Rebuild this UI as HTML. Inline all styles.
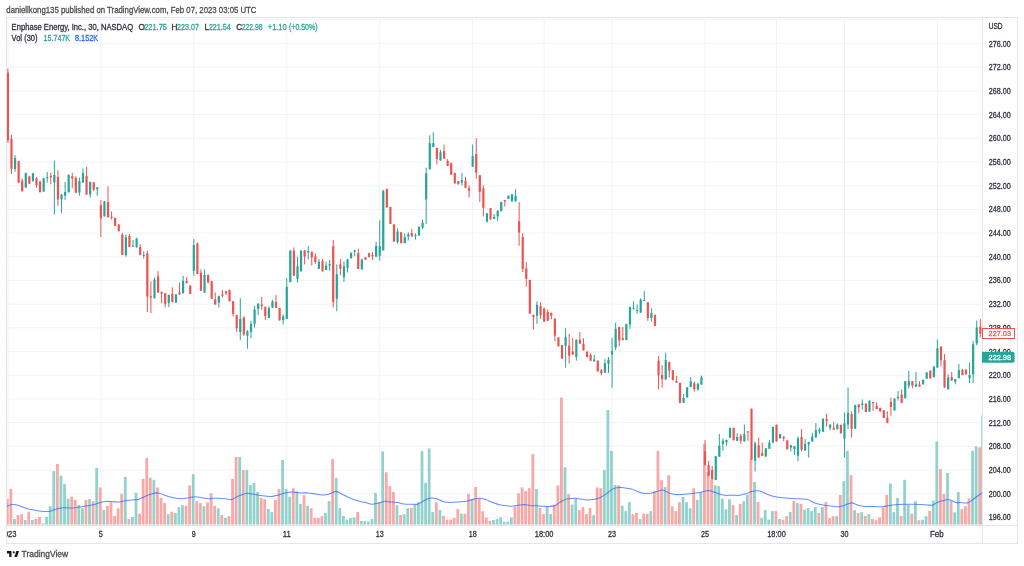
<!DOCTYPE html><html><head><meta charset="utf-8"><style>html,body{margin:0;padding:0;background:#fff;width:1024px;height:566px;overflow:hidden}svg{display:block}text{font-family:"Liberation Sans",sans-serif}</style></head><body><div style="will-change:transform;width:1024px;height:566px"><svg width="1024" height="566" viewBox="0 0 1024 566"><rect width="1024" height="566" fill="#fff"/><defs><clipPath id="pane"><rect x="7" y="18" width="975" height="507"/></clipPath></defs><g stroke="#f2f3f6" stroke-width="1" clip-path="url(#pane)"><line x1="7" y1="19.80" x2="982" y2="19.80"/><line x1="7" y1="43.50" x2="982" y2="43.50"/><line x1="7" y1="67.20" x2="982" y2="67.20"/><line x1="7" y1="90.89" x2="982" y2="90.89"/><line x1="7" y1="114.59" x2="982" y2="114.59"/><line x1="7" y1="138.28" x2="982" y2="138.28"/><line x1="7" y1="161.98" x2="982" y2="161.98"/><line x1="7" y1="185.68" x2="982" y2="185.68"/><line x1="7" y1="209.37" x2="982" y2="209.37"/><line x1="7" y1="233.07" x2="982" y2="233.07"/><line x1="7" y1="256.76" x2="982" y2="256.76"/><line x1="7" y1="280.46" x2="982" y2="280.46"/><line x1="7" y1="304.16" x2="982" y2="304.16"/><line x1="7" y1="327.85" x2="982" y2="327.85"/><line x1="7" y1="351.55" x2="982" y2="351.55"/><line x1="7" y1="375.24" x2="982" y2="375.24"/><line x1="7" y1="398.94" x2="982" y2="398.94"/><line x1="7" y1="422.64" x2="982" y2="422.64"/><line x1="7" y1="446.33" x2="982" y2="446.33"/><line x1="7" y1="470.03" x2="982" y2="470.03"/><line x1="7" y1="493.72" x2="982" y2="493.72"/><line x1="7" y1="517.42" x2="982" y2="517.42"/><line x1="7.90" y1="18" x2="7.90" y2="525"/><line x1="100.85" y1="18" x2="100.85" y2="525"/><line x1="193.80" y1="18" x2="193.80" y2="525"/><line x1="286.75" y1="18" x2="286.75" y2="525"/><line x1="379.70" y1="18" x2="379.70" y2="525"/><line x1="472.65" y1="18" x2="472.65" y2="525"/><line x1="544.15" y1="18" x2="544.15" y2="525"/><line x1="612.08" y1="18" x2="612.08" y2="525"/><line x1="705.02" y1="18" x2="705.02" y2="525"/><line x1="776.52" y1="18" x2="776.52" y2="525"/><line x1="844.45" y1="18" x2="844.45" y2="525"/><line x1="937.40" y1="18" x2="937.40" y2="525"/></g><g clip-path="url(#pane)"><rect x="5.90" y="498.90" width="2.8" height="25.70" fill="#f7a9a7"/><rect x="9.48" y="488.90" width="2.8" height="35.70" fill="#f7a9a7"/><rect x="13.05" y="519.00" width="2.8" height="5.60" fill="#92d2cc"/><rect x="16.62" y="515.00" width="2.8" height="9.60" fill="#f7a9a7"/><rect x="20.20" y="514.20" width="2.8" height="10.40" fill="#f7a9a7"/><rect x="23.77" y="520.00" width="2.8" height="4.60" fill="#92d2cc"/><rect x="27.35" y="511.70" width="2.8" height="12.90" fill="#f7a9a7"/><rect x="30.93" y="520.00" width="2.8" height="4.60" fill="#92d2cc"/><rect x="34.50" y="519.00" width="2.8" height="5.60" fill="#f7a9a7"/><rect x="38.08" y="516.90" width="2.8" height="7.70" fill="#f7a9a7"/><rect x="41.65" y="523.40" width="2.8" height="1.20" fill="#92d2cc"/><rect x="45.23" y="516.90" width="2.8" height="7.70" fill="#92d2cc"/><rect x="48.80" y="506.20" width="2.8" height="18.40" fill="#92d2cc"/><rect x="52.38" y="471.10" width="2.8" height="53.50" fill="#92d2cc"/><rect x="55.95" y="464.00" width="2.8" height="60.60" fill="#f7a9a7"/><rect x="59.52" y="475.70" width="2.8" height="48.90" fill="#92d2cc"/><rect x="63.10" y="484.10" width="2.8" height="40.50" fill="#92d2cc"/><rect x="66.68" y="498.70" width="2.8" height="25.90" fill="#92d2cc"/><rect x="70.25" y="496.70" width="2.8" height="27.90" fill="#f7a9a7"/><rect x="73.83" y="499.90" width="2.8" height="24.70" fill="#f7a9a7"/><rect x="77.40" y="504.90" width="2.8" height="19.70" fill="#92d2cc"/><rect x="80.98" y="508.30" width="2.8" height="16.30" fill="#92d2cc"/><rect x="84.55" y="499.90" width="2.8" height="24.70" fill="#f7a9a7"/><rect x="88.13" y="499.20" width="2.8" height="25.40" fill="#92d2cc"/><rect x="91.70" y="501.20" width="2.8" height="23.40" fill="#f7a9a7"/><rect x="95.28" y="467.80" width="2.8" height="56.80" fill="#92d2cc"/><rect x="98.85" y="487.40" width="2.8" height="37.20" fill="#f7a9a7"/><rect x="102.43" y="510.00" width="2.8" height="14.60" fill="#92d2cc"/><rect x="106.00" y="505.80" width="2.8" height="18.80" fill="#f7a9a7"/><rect x="109.58" y="502.10" width="2.8" height="22.50" fill="#f7a9a7"/><rect x="113.15" y="515.90" width="2.8" height="8.70" fill="#f7a9a7"/><rect x="116.73" y="508.30" width="2.8" height="16.30" fill="#f7a9a7"/><rect x="120.30" y="494.10" width="2.8" height="30.50" fill="#f7a9a7"/><rect x="123.88" y="477.00" width="2.8" height="47.60" fill="#92d2cc"/><rect x="127.45" y="519.00" width="2.8" height="5.60" fill="#f7a9a7"/><rect x="131.03" y="516.90" width="2.8" height="7.70" fill="#92d2cc"/><rect x="134.60" y="492.60" width="2.8" height="32.00" fill="#92d2cc"/><rect x="138.18" y="513.70" width="2.8" height="10.90" fill="#f7a9a7"/><rect x="141.75" y="478.80" width="2.8" height="45.80" fill="#f7a9a7"/><rect x="145.33" y="457.80" width="2.8" height="66.80" fill="#f7a9a7"/><rect x="148.90" y="477.80" width="2.8" height="46.80" fill="#f7a9a7"/><rect x="152.48" y="479.80" width="2.8" height="44.80" fill="#92d2cc"/><rect x="156.05" y="487.40" width="2.8" height="37.20" fill="#f7a9a7"/><rect x="159.62" y="497.90" width="2.8" height="26.70" fill="#f7a9a7"/><rect x="163.20" y="503.10" width="2.8" height="21.50" fill="#f7a9a7"/><rect x="166.78" y="514.20" width="2.8" height="10.40" fill="#92d2cc"/><rect x="170.35" y="511.70" width="2.8" height="12.90" fill="#f7a9a7"/><rect x="173.93" y="513.00" width="2.8" height="11.60" fill="#92d2cc"/><rect x="177.50" y="507.10" width="2.8" height="17.50" fill="#92d2cc"/><rect x="181.08" y="505.20" width="2.8" height="19.40" fill="#92d2cc"/><rect x="184.65" y="505.80" width="2.8" height="18.80" fill="#f7a9a7"/><rect x="188.23" y="485.40" width="2.8" height="39.20" fill="#f7a9a7"/><rect x="191.80" y="474.20" width="2.8" height="50.40" fill="#92d2cc"/><rect x="195.38" y="501.20" width="2.8" height="23.40" fill="#f7a9a7"/><rect x="198.95" y="503.10" width="2.8" height="21.50" fill="#f7a9a7"/><rect x="202.53" y="506.20" width="2.8" height="18.40" fill="#92d2cc"/><rect x="206.10" y="502.40" width="2.8" height="22.20" fill="#f7a9a7"/><rect x="209.68" y="493.30" width="2.8" height="31.30" fill="#f7a9a7"/><rect x="213.25" y="505.80" width="2.8" height="18.80" fill="#f7a9a7"/><rect x="216.83" y="508.30" width="2.8" height="16.30" fill="#92d2cc"/><rect x="220.40" y="515.00" width="2.8" height="9.60" fill="#f7a9a7"/><rect x="223.98" y="518.00" width="2.8" height="6.60" fill="#92d2cc"/><rect x="227.55" y="516.20" width="2.8" height="8.40" fill="#f7a9a7"/><rect x="231.13" y="478.80" width="2.8" height="45.80" fill="#f7a9a7"/><rect x="234.70" y="456.90" width="2.8" height="67.70" fill="#f7a9a7"/><rect x="238.28" y="456.90" width="2.8" height="67.70" fill="#92d2cc"/><rect x="241.85" y="470.20" width="2.8" height="54.40" fill="#f7a9a7"/><rect x="245.43" y="470.00" width="2.8" height="54.60" fill="#92d2cc"/><rect x="249.00" y="485.10" width="2.8" height="39.50" fill="#92d2cc"/><rect x="252.58" y="482.90" width="2.8" height="41.70" fill="#92d2cc"/><rect x="256.15" y="492.00" width="2.8" height="32.60" fill="#92d2cc"/><rect x="259.73" y="497.90" width="2.8" height="26.70" fill="#f7a9a7"/><rect x="263.30" y="499.20" width="2.8" height="25.40" fill="#f7a9a7"/><rect x="266.88" y="509.00" width="2.8" height="15.60" fill="#92d2cc"/><rect x="270.45" y="512.10" width="2.8" height="12.50" fill="#92d2cc"/><rect x="274.02" y="499.90" width="2.8" height="24.70" fill="#f7a9a7"/><rect x="277.60" y="489.10" width="2.8" height="35.50" fill="#f7a9a7"/><rect x="281.18" y="460.00" width="2.8" height="64.60" fill="#92d2cc"/><rect x="284.75" y="488.90" width="2.8" height="35.70" fill="#92d2cc"/><rect x="288.32" y="496.70" width="2.8" height="27.90" fill="#92d2cc"/><rect x="291.90" y="488.20" width="2.8" height="36.40" fill="#f7a9a7"/><rect x="295.47" y="491.40" width="2.8" height="33.20" fill="#92d2cc"/><rect x="299.05" y="503.90" width="2.8" height="20.70" fill="#92d2cc"/><rect x="302.62" y="495.20" width="2.8" height="29.40" fill="#f7a9a7"/><rect x="306.20" y="505.80" width="2.8" height="18.80" fill="#92d2cc"/><rect x="309.77" y="508.30" width="2.8" height="16.30" fill="#f7a9a7"/><rect x="313.35" y="518.00" width="2.8" height="6.60" fill="#f7a9a7"/><rect x="316.93" y="518.00" width="2.8" height="6.60" fill="#f7a9a7"/><rect x="320.50" y="516.20" width="2.8" height="8.40" fill="#f7a9a7"/><rect x="324.07" y="513.00" width="2.8" height="11.60" fill="#92d2cc"/><rect x="327.65" y="501.20" width="2.8" height="23.40" fill="#92d2cc"/><rect x="331.22" y="459.10" width="2.8" height="65.50" fill="#f7a9a7"/><rect x="334.80" y="477.80" width="2.8" height="46.80" fill="#92d2cc"/><rect x="338.38" y="508.00" width="2.8" height="16.60" fill="#92d2cc"/><rect x="341.95" y="515.90" width="2.8" height="8.70" fill="#92d2cc"/><rect x="345.52" y="519.60" width="2.8" height="5.00" fill="#92d2cc"/><rect x="349.10" y="518.10" width="2.8" height="6.50" fill="#92d2cc"/><rect x="352.68" y="517.50" width="2.8" height="7.10" fill="#92d2cc"/><rect x="356.25" y="512.10" width="2.8" height="12.50" fill="#f7a9a7"/><rect x="359.82" y="520.90" width="2.8" height="3.70" fill="#92d2cc"/><rect x="363.40" y="520.90" width="2.8" height="3.70" fill="#92d2cc"/><rect x="366.98" y="521.60" width="2.8" height="3.00" fill="#92d2cc"/><rect x="370.55" y="519.00" width="2.8" height="5.60" fill="#92d2cc"/><rect x="374.12" y="492.90" width="2.8" height="31.70" fill="#92d2cc"/><rect x="377.70" y="502.10" width="2.8" height="22.50" fill="#f7a9a7"/><rect x="381.27" y="451.40" width="2.8" height="73.20" fill="#92d2cc"/><rect x="384.85" y="472.30" width="2.8" height="52.30" fill="#f7a9a7"/><rect x="388.43" y="486.10" width="2.8" height="38.50" fill="#f7a9a7"/><rect x="392.00" y="492.00" width="2.8" height="32.60" fill="#f7a9a7"/><rect x="395.57" y="505.20" width="2.8" height="19.40" fill="#92d2cc"/><rect x="399.15" y="515.00" width="2.8" height="9.60" fill="#f7a9a7"/><rect x="402.73" y="514.20" width="2.8" height="10.40" fill="#92d2cc"/><rect x="406.30" y="508.30" width="2.8" height="16.30" fill="#92d2cc"/><rect x="409.88" y="508.00" width="2.8" height="16.60" fill="#f7a9a7"/><rect x="413.45" y="504.90" width="2.8" height="19.70" fill="#92d2cc"/><rect x="417.02" y="502.10" width="2.8" height="22.50" fill="#92d2cc"/><rect x="420.60" y="450.90" width="2.8" height="73.70" fill="#92d2cc"/><rect x="424.18" y="482.90" width="2.8" height="41.70" fill="#92d2cc"/><rect x="427.75" y="448.40" width="2.8" height="76.20" fill="#92d2cc"/><rect x="431.32" y="512.10" width="2.8" height="12.50" fill="#92d2cc"/><rect x="434.90" y="502.40" width="2.8" height="22.20" fill="#f7a9a7"/><rect x="438.48" y="510.00" width="2.8" height="14.60" fill="#92d2cc"/><rect x="442.05" y="515.90" width="2.8" height="8.70" fill="#f7a9a7"/><rect x="445.62" y="519.60" width="2.8" height="5.00" fill="#f7a9a7"/><rect x="449.20" y="519.60" width="2.8" height="5.00" fill="#f7a9a7"/><rect x="452.77" y="518.00" width="2.8" height="6.60" fill="#f7a9a7"/><rect x="456.35" y="509.00" width="2.8" height="15.60" fill="#f7a9a7"/><rect x="459.93" y="513.70" width="2.8" height="10.90" fill="#92d2cc"/><rect x="463.50" y="513.70" width="2.8" height="10.90" fill="#f7a9a7"/><rect x="467.07" y="493.90" width="2.8" height="30.70" fill="#f7a9a7"/><rect x="470.65" y="498.70" width="2.8" height="25.90" fill="#92d2cc"/><rect x="474.23" y="487.00" width="2.8" height="37.60" fill="#f7a9a7"/><rect x="477.80" y="498.30" width="2.8" height="26.30" fill="#f7a9a7"/><rect x="481.38" y="511.20" width="2.8" height="13.40" fill="#f7a9a7"/><rect x="484.95" y="517.70" width="2.8" height="6.90" fill="#f7a9a7"/><rect x="488.52" y="520.90" width="2.8" height="3.70" fill="#f7a9a7"/><rect x="492.10" y="520.00" width="2.8" height="4.60" fill="#92d2cc"/><rect x="495.68" y="519.00" width="2.8" height="5.60" fill="#92d2cc"/><rect x="499.25" y="517.50" width="2.8" height="7.10" fill="#92d2cc"/><rect x="502.82" y="521.70" width="2.8" height="2.90" fill="#92d2cc"/><rect x="506.40" y="521.70" width="2.8" height="2.90" fill="#92d2cc"/><rect x="509.98" y="517.50" width="2.8" height="7.10" fill="#92d2cc"/><rect x="513.55" y="506.40" width="2.8" height="18.20" fill="#f7a9a7"/><rect x="517.12" y="493.30" width="2.8" height="31.30" fill="#f7a9a7"/><rect x="520.70" y="487.40" width="2.8" height="37.20" fill="#f7a9a7"/><rect x="524.27" y="491.10" width="2.8" height="33.50" fill="#f7a9a7"/><rect x="527.85" y="488.20" width="2.8" height="36.40" fill="#f7a9a7"/><rect x="531.42" y="454.20" width="2.8" height="70.40" fill="#f7a9a7"/><rect x="535.00" y="488.90" width="2.8" height="35.70" fill="#92d2cc"/><rect x="538.58" y="508.00" width="2.8" height="16.60" fill="#f7a9a7"/><rect x="542.15" y="514.20" width="2.8" height="10.40" fill="#f7a9a7"/><rect x="545.73" y="506.40" width="2.8" height="18.20" fill="#92d2cc"/><rect x="549.30" y="514.00" width="2.8" height="10.60" fill="#92d2cc"/><rect x="552.88" y="504.60" width="2.8" height="20.00" fill="#f7a9a7"/><rect x="556.45" y="485.50" width="2.8" height="39.10" fill="#f7a9a7"/><rect x="560.02" y="397.60" width="2.8" height="127.00" fill="#f7a9a7"/><rect x="563.60" y="467.20" width="2.8" height="57.40" fill="#92d2cc"/><rect x="567.17" y="494.10" width="2.8" height="30.50" fill="#f7a9a7"/><rect x="570.75" y="504.60" width="2.8" height="20.00" fill="#92d2cc"/><rect x="574.33" y="498.70" width="2.8" height="25.90" fill="#92d2cc"/><rect x="577.90" y="510.20" width="2.8" height="14.40" fill="#f7a9a7"/><rect x="581.48" y="507.10" width="2.8" height="17.50" fill="#f7a9a7"/><rect x="585.05" y="514.20" width="2.8" height="10.40" fill="#f7a9a7"/><rect x="588.62" y="508.00" width="2.8" height="16.60" fill="#f7a9a7"/><rect x="592.20" y="515.20" width="2.8" height="9.40" fill="#92d2cc"/><rect x="595.77" y="487.40" width="2.8" height="37.20" fill="#f7a9a7"/><rect x="599.35" y="488.20" width="2.8" height="36.40" fill="#f7a9a7"/><rect x="602.92" y="470.10" width="2.8" height="54.50" fill="#92d2cc"/><rect x="606.50" y="410.00" width="2.8" height="114.60" fill="#92d2cc"/><rect x="610.08" y="450.90" width="2.8" height="73.70" fill="#92d2cc"/><rect x="613.65" y="484.90" width="2.8" height="39.70" fill="#92d2cc"/><rect x="617.23" y="485.40" width="2.8" height="39.20" fill="#f7a9a7"/><rect x="620.80" y="505.80" width="2.8" height="18.80" fill="#92d2cc"/><rect x="624.38" y="511.10" width="2.8" height="13.50" fill="#92d2cc"/><rect x="627.95" y="502.10" width="2.8" height="22.50" fill="#92d2cc"/><rect x="631.52" y="514.20" width="2.8" height="10.40" fill="#f7a9a7"/><rect x="635.10" y="513.00" width="2.8" height="11.60" fill="#f7a9a7"/><rect x="638.67" y="519.00" width="2.8" height="5.60" fill="#92d2cc"/><rect x="642.25" y="513.70" width="2.8" height="10.90" fill="#f7a9a7"/><rect x="645.83" y="513.70" width="2.8" height="10.90" fill="#f7a9a7"/><rect x="649.40" y="511.10" width="2.8" height="13.50" fill="#92d2cc"/><rect x="652.98" y="491.40" width="2.8" height="33.20" fill="#f7a9a7"/><rect x="656.55" y="450.90" width="2.8" height="73.70" fill="#f7a9a7"/><rect x="660.12" y="480.10" width="2.8" height="44.50" fill="#f7a9a7"/><rect x="663.70" y="487.00" width="2.8" height="37.60" fill="#92d2cc"/><rect x="667.27" y="475.10" width="2.8" height="49.50" fill="#f7a9a7"/><rect x="670.85" y="506.40" width="2.8" height="18.20" fill="#f7a9a7"/><rect x="674.42" y="511.10" width="2.8" height="13.50" fill="#f7a9a7"/><rect x="678.00" y="502.10" width="2.8" height="22.50" fill="#f7a9a7"/><rect x="681.58" y="497.00" width="2.8" height="27.60" fill="#92d2cc"/><rect x="685.15" y="502.10" width="2.8" height="22.50" fill="#92d2cc"/><rect x="688.73" y="508.30" width="2.8" height="16.30" fill="#92d2cc"/><rect x="692.30" y="488.20" width="2.8" height="36.40" fill="#f7a9a7"/><rect x="695.88" y="499.90" width="2.8" height="24.70" fill="#92d2cc"/><rect x="699.45" y="492.40" width="2.8" height="32.20" fill="#92d2cc"/><rect x="703.02" y="444.00" width="2.8" height="80.60" fill="#f7a9a7"/><rect x="706.60" y="472.00" width="2.8" height="52.60" fill="#f7a9a7"/><rect x="710.18" y="480.00" width="2.8" height="44.60" fill="#f7a9a7"/><rect x="713.75" y="485.40" width="2.8" height="39.20" fill="#92d2cc"/><rect x="717.33" y="486.10" width="2.8" height="38.50" fill="#92d2cc"/><rect x="720.90" y="498.70" width="2.8" height="25.90" fill="#92d2cc"/><rect x="724.48" y="509.20" width="2.8" height="15.40" fill="#92d2cc"/><rect x="728.05" y="499.20" width="2.8" height="25.40" fill="#92d2cc"/><rect x="731.62" y="505.20" width="2.8" height="19.40" fill="#f7a9a7"/><rect x="735.20" y="515.00" width="2.8" height="9.60" fill="#92d2cc"/><rect x="738.77" y="503.90" width="2.8" height="20.70" fill="#f7a9a7"/><rect x="742.35" y="501.20" width="2.8" height="23.40" fill="#92d2cc"/><rect x="745.93" y="494.50" width="2.8" height="30.10" fill="#92d2cc"/><rect x="749.50" y="459.00" width="2.8" height="65.60" fill="#f7a9a7"/><rect x="753.08" y="482.00" width="2.8" height="42.60" fill="#92d2cc"/><rect x="756.65" y="502.10" width="2.8" height="22.50" fill="#f7a9a7"/><rect x="760.23" y="518.10" width="2.8" height="6.50" fill="#92d2cc"/><rect x="763.80" y="509.80" width="2.8" height="14.80" fill="#92d2cc"/><rect x="767.38" y="519.60" width="2.8" height="5.00" fill="#92d2cc"/><rect x="770.95" y="511.10" width="2.8" height="13.50" fill="#92d2cc"/><rect x="774.52" y="511.10" width="2.8" height="13.50" fill="#f7a9a7"/><rect x="778.10" y="519.00" width="2.8" height="5.60" fill="#92d2cc"/><rect x="781.68" y="519.60" width="2.8" height="5.00" fill="#f7a9a7"/><rect x="785.25" y="516.20" width="2.8" height="8.40" fill="#f7a9a7"/><rect x="788.83" y="512.10" width="2.8" height="12.50" fill="#92d2cc"/><rect x="792.40" y="500.80" width="2.8" height="23.80" fill="#f7a9a7"/><rect x="795.98" y="503.10" width="2.8" height="21.50" fill="#92d2cc"/><rect x="799.55" y="503.90" width="2.8" height="20.70" fill="#f7a9a7"/><rect x="803.12" y="509.80" width="2.8" height="14.80" fill="#92d2cc"/><rect x="806.70" y="508.00" width="2.8" height="16.60" fill="#92d2cc"/><rect x="810.27" y="511.10" width="2.8" height="13.50" fill="#92d2cc"/><rect x="813.85" y="507.10" width="2.8" height="17.50" fill="#92d2cc"/><rect x="817.43" y="513.00" width="2.8" height="11.60" fill="#f7a9a7"/><rect x="821.00" y="507.10" width="2.8" height="17.50" fill="#92d2cc"/><rect x="824.58" y="502.10" width="2.8" height="22.50" fill="#f7a9a7"/><rect x="828.15" y="518.10" width="2.8" height="6.50" fill="#f7a9a7"/><rect x="831.73" y="516.20" width="2.8" height="8.40" fill="#f7a9a7"/><rect x="835.30" y="516.20" width="2.8" height="8.40" fill="#92d2cc"/><rect x="838.88" y="494.90" width="2.8" height="29.70" fill="#f7a9a7"/><rect x="842.45" y="481.10" width="2.8" height="43.50" fill="#92d2cc"/><rect x="846.02" y="450.90" width="2.8" height="73.70" fill="#92d2cc"/><rect x="849.60" y="475.10" width="2.8" height="49.50" fill="#f7a9a7"/><rect x="853.18" y="510.20" width="2.8" height="14.40" fill="#92d2cc"/><rect x="856.75" y="513.00" width="2.8" height="11.60" fill="#f7a9a7"/><rect x="860.33" y="512.10" width="2.8" height="12.50" fill="#92d2cc"/><rect x="863.90" y="515.90" width="2.8" height="8.70" fill="#f7a9a7"/><rect x="867.48" y="514.20" width="2.8" height="10.40" fill="#92d2cc"/><rect x="871.05" y="519.00" width="2.8" height="5.60" fill="#f7a9a7"/><rect x="874.62" y="520.20" width="2.8" height="4.40" fill="#f7a9a7"/><rect x="878.20" y="517.50" width="2.8" height="7.10" fill="#f7a9a7"/><rect x="881.77" y="507.70" width="2.8" height="16.90" fill="#f7a9a7"/><rect x="885.35" y="494.90" width="2.8" height="29.70" fill="#f7a9a7"/><rect x="888.93" y="483.60" width="2.8" height="41.00" fill="#92d2cc"/><rect x="892.50" y="512.10" width="2.8" height="12.50" fill="#92d2cc"/><rect x="896.08" y="497.90" width="2.8" height="26.70" fill="#92d2cc"/><rect x="899.65" y="515.90" width="2.8" height="8.70" fill="#f7a9a7"/><rect x="903.23" y="479.80" width="2.8" height="44.80" fill="#92d2cc"/><rect x="906.80" y="504.60" width="2.8" height="20.00" fill="#92d2cc"/><rect x="910.38" y="513.70" width="2.8" height="10.90" fill="#f7a9a7"/><rect x="913.95" y="501.20" width="2.8" height="23.40" fill="#92d2cc"/><rect x="917.52" y="520.20" width="2.8" height="4.40" fill="#f7a9a7"/><rect x="921.10" y="519.70" width="2.8" height="4.90" fill="#92d2cc"/><rect x="924.68" y="516.20" width="2.8" height="8.40" fill="#92d2cc"/><rect x="928.25" y="511.00" width="2.8" height="13.60" fill="#f7a9a7"/><rect x="931.83" y="500.70" width="2.8" height="23.90" fill="#92d2cc"/><rect x="935.40" y="441.50" width="2.8" height="83.10" fill="#92d2cc"/><rect x="938.98" y="469.00" width="2.8" height="55.60" fill="#f7a9a7"/><rect x="942.55" y="494.00" width="2.8" height="30.60" fill="#f7a9a7"/><rect x="946.12" y="473.00" width="2.8" height="51.60" fill="#92d2cc"/><rect x="949.70" y="500.70" width="2.8" height="23.90" fill="#f7a9a7"/><rect x="953.27" y="512.30" width="2.8" height="12.30" fill="#92d2cc"/><rect x="956.85" y="492.00" width="2.8" height="32.60" fill="#92d2cc"/><rect x="960.43" y="509.20" width="2.8" height="15.40" fill="#f7a9a7"/><rect x="964.00" y="506.30" width="2.8" height="18.30" fill="#f7a9a7"/><rect x="967.58" y="498.50" width="2.8" height="26.10" fill="#f7a9a7"/><rect x="971.15" y="450.80" width="2.8" height="73.80" fill="#92d2cc"/><rect x="974.73" y="446.30" width="2.8" height="78.30" fill="#92d2cc"/><rect x="978.30" y="447.30" width="2.8" height="77.30" fill="#f7a9a7"/><rect x="981.2" y="415.5" width="0.9" height="109.1" fill="#92d2cc"/></g><path d="M6.00,506.20 C6.15,506.20 5.82,506.47 6.90,506.20 C7.98,505.93 10.52,504.73 12.50,504.60 C14.48,504.47 16.70,504.83 18.80,505.40 C20.90,505.97 23.00,507.30 25.10,508.00 C27.20,508.70 29.32,509.13 31.40,509.60 C33.48,510.07 35.52,510.48 37.60,510.80 C39.68,511.12 41.80,511.43 43.90,511.50 C46.00,511.57 48.10,511.62 50.20,511.20 C52.30,510.78 54.42,509.58 56.50,509.00 C58.58,508.42 60.62,507.87 62.70,507.70 C64.78,507.53 66.90,508.00 69.00,508.00 C71.10,508.00 73.20,507.92 75.30,507.70 C77.40,507.48 79.52,507.02 81.60,506.70 C83.68,506.38 85.72,506.15 87.80,505.80 C89.88,505.45 92.00,505.17 94.10,504.60 C96.20,504.03 98.32,502.93 100.40,502.40 C102.48,501.87 104.52,501.52 106.60,501.40 C108.68,501.28 110.80,501.60 112.90,501.70 C115.00,501.80 117.10,502.15 119.20,502.00 C121.30,501.85 123.28,501.15 125.50,500.80 C127.72,500.45 130.28,500.17 132.50,499.90 C134.72,499.63 136.70,499.78 138.80,499.20 C140.90,498.62 143.00,497.25 145.10,496.40 C147.20,495.55 149.32,494.68 151.40,494.10 C153.48,493.52 155.52,492.77 157.60,492.90 C159.68,493.03 161.80,494.22 163.90,494.90 C166.00,495.58 168.10,496.43 170.20,497.00 C172.30,497.57 174.42,498.02 176.50,498.30 C178.58,498.58 180.62,498.80 182.70,498.70 C184.78,498.60 186.90,498.03 189.00,497.70 C191.10,497.37 193.20,496.70 195.30,496.70 C197.40,496.70 199.52,497.37 201.60,497.70 C203.68,498.03 205.72,498.60 207.80,498.70 C209.88,498.80 212.00,498.37 214.10,498.30 C216.20,498.23 218.32,498.20 220.40,498.30 C222.48,498.40 224.72,498.70 226.60,498.90 C228.48,499.10 229.60,500.02 231.70,499.50 C233.80,498.98 236.90,496.78 239.20,495.80 C241.50,494.82 244.12,494.02 245.50,493.60 C246.88,493.18 245.90,493.15 247.50,493.30 C249.10,493.45 252.58,494.08 255.10,494.50 C257.62,494.92 259.88,495.48 262.60,495.80 C265.32,496.12 268.90,496.50 271.40,496.40 C273.90,496.30 275.52,495.72 277.60,495.20 C279.68,494.68 281.38,493.83 283.90,493.30 C286.42,492.77 289.98,492.07 292.70,492.00 C295.42,491.93 297.68,492.75 300.20,492.90 C302.72,493.05 305.28,492.73 307.80,492.90 C310.32,493.07 313.00,493.57 315.30,493.90 C317.60,494.23 319.52,494.80 321.60,494.90 C323.68,495.00 325.50,495.08 327.80,494.50 C330.10,493.92 333.30,491.60 335.40,491.40 C337.50,491.20 338.53,492.47 340.40,493.30 C342.27,494.13 344.52,495.42 346.60,496.40 C348.68,497.38 350.80,498.40 352.90,499.20 C355.00,500.00 357.10,500.63 359.20,501.20 C361.30,501.77 363.38,502.10 365.50,502.60 C367.62,503.10 369.68,504.15 371.90,504.20 C374.12,504.25 376.60,503.40 378.80,502.90 C381.00,502.40 383.00,501.33 385.10,501.20 C387.20,501.07 389.32,501.90 391.40,502.10 C393.48,502.30 395.52,502.10 397.60,502.40 C399.68,502.70 401.80,503.60 403.90,503.90 C406.00,504.20 407.90,504.15 410.20,504.20 C412.50,504.25 415.62,504.67 417.70,504.20 C419.78,503.73 420.72,502.38 422.70,501.40 C424.68,500.42 427.30,498.75 429.60,498.30 C431.90,497.85 434.30,498.18 436.50,498.70 C438.70,499.22 440.50,500.78 442.80,501.40 C445.10,502.02 447.37,502.35 450.30,502.40 C453.23,502.45 457.68,501.90 460.40,501.70 C463.12,501.50 464.52,501.57 466.60,501.20 C468.68,500.83 470.80,499.98 472.90,499.50 C475.00,499.02 477.10,498.30 479.20,498.30 C481.30,498.30 483.28,498.82 485.50,499.50 C487.72,500.18 490.28,501.55 492.50,502.40 C494.72,503.25 496.70,504.07 498.80,504.60 C500.90,505.13 503.00,505.33 505.10,505.60 C507.20,505.87 509.32,506.23 511.40,506.20 C513.48,506.17 515.52,505.67 517.60,505.40 C519.68,505.13 521.80,504.60 523.90,504.60 C526.00,504.60 528.10,505.20 530.20,505.40 C532.30,505.60 534.42,505.67 536.50,505.80 C538.58,505.93 540.62,506.10 542.70,506.20 C544.78,506.30 546.90,506.53 549.00,506.40 C551.10,506.27 553.20,506.27 555.30,505.40 C557.40,504.53 559.52,502.32 561.60,501.20 C563.68,500.08 565.50,499.18 567.80,498.70 C570.10,498.22 573.30,498.27 575.40,498.30 C577.50,498.33 578.53,498.63 580.40,498.90 C582.27,499.17 584.52,499.80 586.60,499.90 C588.68,500.00 590.80,499.83 592.90,499.50 C595.00,499.17 596.97,498.83 599.20,497.90 C601.43,496.97 604.08,495.37 606.30,493.90 C608.52,492.43 610.42,490.18 612.50,489.10 C614.58,488.02 616.70,487.60 618.80,487.40 C620.90,487.20 623.00,487.62 625.10,487.90 C627.20,488.18 629.32,488.52 631.40,489.10 C633.48,489.68 635.93,490.77 637.60,491.40 C639.27,492.03 639.30,492.58 641.40,492.90 C643.50,493.22 647.68,493.52 650.20,493.30 C652.72,493.08 654.42,492.13 656.50,491.60 C658.58,491.07 660.62,489.88 662.70,490.10 C664.78,490.32 666.90,492.17 669.00,492.90 C671.10,493.63 673.20,494.23 675.30,494.50 C677.40,494.77 679.52,494.57 681.60,494.50 C683.68,494.43 685.72,494.30 687.80,494.10 C689.88,493.90 692.00,493.58 694.10,493.30 C696.20,493.02 698.32,492.82 700.40,492.40 C702.48,491.98 704.93,491.07 706.60,490.80 C708.27,490.53 708.93,490.50 710.40,490.80 C711.87,491.10 713.72,491.98 715.40,492.60 C717.08,493.22 718.68,494.03 720.50,494.50 C722.32,494.97 724.30,495.28 726.30,495.40 C728.30,495.52 730.42,495.20 732.50,495.20 C734.58,495.20 736.70,495.58 738.80,495.40 C740.90,495.22 743.00,494.73 745.10,494.10 C747.20,493.47 749.32,492.15 751.40,491.60 C753.48,491.05 755.93,490.80 757.60,490.80 C759.27,490.80 759.72,490.98 761.40,491.60 C763.08,492.22 765.18,493.60 767.70,494.50 C770.22,495.40 774.00,496.47 776.50,497.00 C779.00,497.53 780.62,497.48 782.70,497.70 C784.78,497.92 786.90,498.13 789.00,498.30 C791.10,498.47 793.20,498.60 795.30,498.70 C797.40,498.80 799.52,498.77 801.60,498.90 C803.68,499.03 805.72,498.87 807.80,499.50 C809.88,500.13 812.00,501.85 814.10,502.70 C816.20,503.55 818.32,504.15 820.40,504.60 C822.48,505.05 824.52,505.13 826.60,505.40 C828.68,505.67 831.02,505.98 832.90,506.20 C834.78,506.42 836.22,506.77 837.90,506.70 C839.58,506.63 841.60,506.15 843.00,505.80 C844.40,505.45 844.92,505.08 846.30,504.60 C847.68,504.12 849.83,503.02 851.30,502.90 C852.77,502.78 853.63,503.42 855.10,503.90 C856.57,504.38 858.43,505.38 860.10,505.80 C861.77,506.22 863.22,506.30 865.10,506.40 C866.98,506.50 869.32,506.35 871.40,506.40 C873.48,506.45 875.72,506.65 877.60,506.70 C879.48,506.75 881.02,506.85 882.70,506.70 C884.38,506.55 886.03,506.10 887.70,505.80 C889.37,505.50 891.03,505.10 892.70,504.90 C894.37,504.70 896.03,504.72 897.70,504.60 C899.37,504.48 900.82,504.27 902.70,504.20 C904.58,504.13 906.90,504.20 909.00,504.20 C911.10,504.20 913.20,504.13 915.30,504.20 C917.40,504.27 919.52,504.48 921.60,504.60 C923.68,504.72 926.03,504.80 927.80,504.90 C929.57,505.00 930.73,505.57 932.20,505.20 C933.67,504.83 935.23,503.37 936.60,502.70 C937.97,502.03 939.15,501.58 940.40,501.20 C941.65,500.82 942.85,500.68 944.10,500.40 C945.35,500.12 946.63,499.50 947.90,499.50 C949.17,499.50 950.45,499.92 951.70,500.40 C952.95,500.88 953.93,502.03 955.40,502.40 C956.87,502.77 958.45,502.53 960.50,502.60 C962.55,502.67 965.62,503.32 967.70,502.80 C969.78,502.28 970.65,501.13 973.00,499.50 C975.35,497.87 980.13,494.25 981.80,493.00 C983.47,491.75 982.80,492.17 983.00,492.00" fill="none" stroke="#2962ff" stroke-opacity="0.72" stroke-width="1.05" clip-path="url(#pane)"/><g clip-path="url(#pane)"><rect x="7.40" y="68.70" width="1.0" height="74.00" fill="#ef5350"/><rect x="6.80" y="72.70" width="2.2" height="67.60" fill="#ef5350"/><rect x="10.98" y="134.80" width="1.0" height="39.10" fill="#ef5350"/><rect x="10.38" y="138.80" width="2.2" height="30.10" fill="#ef5350"/><rect x="14.55" y="155.10" width="1.0" height="16.60" fill="#26a69a"/><rect x="13.95" y="158.20" width="2.2" height="10.70" fill="#26a69a"/><rect x="18.12" y="160.80" width="1.0" height="21.90" fill="#ef5350"/><rect x="17.52" y="161.10" width="2.2" height="21.60" fill="#ef5350"/><rect x="21.70" y="178.30" width="1.0" height="13.20" fill="#ef5350"/><rect x="21.10" y="180.80" width="2.2" height="10.40" fill="#ef5350"/><rect x="25.27" y="172.70" width="1.0" height="15.00" fill="#26a69a"/><rect x="24.67" y="173.10" width="2.2" height="14.40" fill="#26a69a"/><rect x="28.85" y="175.80" width="1.0" height="8.20" fill="#ef5350"/><rect x="28.25" y="176.40" width="2.2" height="7.30" fill="#ef5350"/><rect x="32.43" y="173.00" width="1.0" height="9.00" fill="#26a69a"/><rect x="31.83" y="173.30" width="2.2" height="7.50" fill="#26a69a"/><rect x="36.00" y="177.10" width="1.0" height="10.40" fill="#ef5350"/><rect x="35.40" y="178.30" width="2.2" height="6.70" fill="#ef5350"/><rect x="39.58" y="180.80" width="1.0" height="11.70" fill="#ef5350"/><rect x="38.98" y="181.50" width="2.2" height="10.60" fill="#ef5350"/><rect x="43.15" y="177.70" width="1.0" height="14.10" fill="#26a69a"/><rect x="42.55" y="178.30" width="2.2" height="13.20" fill="#26a69a"/><rect x="46.73" y="172.00" width="1.0" height="10.70" fill="#26a69a"/><rect x="46.12" y="177.10" width="2.2" height="1.20" fill="#26a69a"/><rect x="50.30" y="172.70" width="1.0" height="11.50" fill="#ef5350"/><rect x="49.70" y="175.80" width="2.2" height="1.60" fill="#ef5350"/><rect x="53.88" y="160.50" width="1.0" height="54.00" fill="#26a69a"/><rect x="53.27" y="175.00" width="2.2" height="7.50" fill="#26a69a"/><rect x="57.45" y="170.20" width="1.0" height="35.60" fill="#ef5350"/><rect x="56.85" y="176.90" width="2.2" height="22.60" fill="#ef5350"/><rect x="61.02" y="194.00" width="1.0" height="18.70" fill="#26a69a"/><rect x="60.42" y="194.50" width="2.2" height="5.00" fill="#26a69a"/><rect x="64.60" y="181.90" width="1.0" height="18.00" fill="#26a69a"/><rect x="64.00" y="192.00" width="2.2" height="3.70" fill="#26a69a"/><rect x="68.18" y="174.60" width="1.0" height="17.90" fill="#26a69a"/><rect x="67.58" y="174.80" width="2.2" height="17.50" fill="#26a69a"/><rect x="71.75" y="172.80" width="1.0" height="15.40" fill="#ef5350"/><rect x="71.15" y="176.30" width="2.2" height="2.20" fill="#ef5350"/><rect x="75.33" y="176.40" width="1.0" height="16.60" fill="#ef5350"/><rect x="74.73" y="177.80" width="2.2" height="15.00" fill="#ef5350"/><rect x="78.90" y="177.50" width="1.0" height="18.20" fill="#26a69a"/><rect x="78.30" y="181.00" width="2.2" height="11.60" fill="#26a69a"/><rect x="82.48" y="168.30" width="1.0" height="14.40" fill="#26a69a"/><rect x="81.88" y="173.10" width="2.2" height="9.40" fill="#26a69a"/><rect x="86.05" y="167.00" width="1.0" height="28.00" fill="#ef5350"/><rect x="85.45" y="176.00" width="2.2" height="18.50" fill="#ef5350"/><rect x="89.63" y="181.50" width="1.0" height="16.10" fill="#26a69a"/><rect x="89.03" y="181.90" width="2.2" height="12.60" fill="#26a69a"/><rect x="93.20" y="182.00" width="1.0" height="8.90" fill="#ef5350"/><rect x="92.60" y="182.30" width="2.2" height="7.50" fill="#ef5350"/><rect x="96.78" y="187.00" width="1.0" height="8.70" fill="#26a69a"/><rect x="96.18" y="187.30" width="2.2" height="2.10" fill="#26a69a"/><rect x="100.35" y="200.10" width="1.0" height="37.00" fill="#ef5350"/><rect x="99.75" y="205.10" width="2.2" height="13.20" fill="#ef5350"/><rect x="103.93" y="201.00" width="1.0" height="15.60" fill="#26a69a"/><rect x="103.33" y="201.40" width="2.2" height="15.00" fill="#26a69a"/><rect x="107.50" y="186.30" width="1.0" height="31.70" fill="#ef5350"/><rect x="106.90" y="202.00" width="2.2" height="15.00" fill="#ef5350"/><rect x="111.08" y="211.40" width="1.0" height="8.20" fill="#ef5350"/><rect x="110.48" y="216.70" width="2.2" height="1.00" fill="#ef5350"/><rect x="114.65" y="217.40" width="1.0" height="8.60" fill="#ef5350"/><rect x="114.05" y="218.00" width="2.2" height="7.80" fill="#ef5350"/><rect x="118.23" y="224.00" width="1.0" height="7.50" fill="#ef5350"/><rect x="117.63" y="224.60" width="2.2" height="6.60" fill="#ef5350"/><rect x="121.80" y="233.00" width="1.0" height="22.00" fill="#ef5350"/><rect x="121.20" y="234.60" width="2.2" height="20.30" fill="#ef5350"/><rect x="125.38" y="234.50" width="1.0" height="22.10" fill="#26a69a"/><rect x="124.78" y="237.30" width="2.2" height="17.80" fill="#26a69a"/><rect x="128.95" y="234.00" width="1.0" height="13.30" fill="#ef5350"/><rect x="128.35" y="236.00" width="2.2" height="11.00" fill="#ef5350"/><rect x="132.53" y="240.00" width="1.0" height="6.80" fill="#26a69a"/><rect x="131.93" y="245.70" width="2.2" height="1.00" fill="#26a69a"/><rect x="136.10" y="237.80" width="1.0" height="9.70" fill="#26a69a"/><rect x="135.50" y="238.60" width="2.2" height="8.70" fill="#26a69a"/><rect x="139.68" y="244.10" width="1.0" height="11.10" fill="#ef5350"/><rect x="139.08" y="247.00" width="2.2" height="7.90" fill="#ef5350"/><rect x="143.25" y="251.30" width="1.0" height="7.30" fill="#26a69a"/><rect x="142.65" y="254.90" width="2.2" height="1.00" fill="#26a69a"/><rect x="146.83" y="250.70" width="1.0" height="61.30" fill="#ef5350"/><rect x="146.23" y="253.20" width="2.2" height="43.10" fill="#ef5350"/><rect x="150.40" y="281.50" width="1.0" height="31.70" fill="#ef5350"/><rect x="149.80" y="296.30" width="2.2" height="1.30" fill="#ef5350"/><rect x="153.98" y="277.40" width="1.0" height="21.10" fill="#26a69a"/><rect x="153.38" y="279.60" width="2.2" height="18.60" fill="#26a69a"/><rect x="157.55" y="271.20" width="1.0" height="21.60" fill="#ef5350"/><rect x="156.95" y="276.40" width="2.2" height="16.10" fill="#ef5350"/><rect x="161.12" y="291.50" width="1.0" height="11.70" fill="#ef5350"/><rect x="160.53" y="292.00" width="2.2" height="1.80" fill="#ef5350"/><rect x="164.70" y="293.00" width="1.0" height="14.60" fill="#ef5350"/><rect x="164.10" y="293.20" width="2.2" height="10.60" fill="#ef5350"/><rect x="168.28" y="294.50" width="1.0" height="12.50" fill="#26a69a"/><rect x="167.68" y="295.00" width="2.2" height="8.20" fill="#26a69a"/><rect x="171.85" y="287.30" width="1.0" height="15.20" fill="#ef5350"/><rect x="171.25" y="293.80" width="2.2" height="8.20" fill="#ef5350"/><rect x="175.43" y="294.00" width="1.0" height="9.00" fill="#26a69a"/><rect x="174.83" y="294.40" width="2.2" height="8.20" fill="#26a69a"/><rect x="179.00" y="282.50" width="1.0" height="12.30" fill="#ef5350"/><rect x="178.40" y="292.50" width="2.2" height="1.90" fill="#ef5350"/><rect x="182.58" y="275.80" width="1.0" height="17.70" fill="#26a69a"/><rect x="181.98" y="280.80" width="2.2" height="12.40" fill="#26a69a"/><rect x="186.15" y="277.10" width="1.0" height="6.60" fill="#ef5350"/><rect x="185.55" y="281.20" width="2.2" height="1.90" fill="#ef5350"/><rect x="189.73" y="285.30" width="1.0" height="8.90" fill="#ef5350"/><rect x="189.13" y="285.60" width="2.2" height="8.20" fill="#ef5350"/><rect x="193.30" y="239.10" width="1.0" height="36.70" fill="#26a69a"/><rect x="192.70" y="245.10" width="2.2" height="25.70" fill="#26a69a"/><rect x="196.88" y="242.30" width="1.0" height="31.90" fill="#ef5350"/><rect x="196.28" y="243.60" width="2.2" height="30.30" fill="#ef5350"/><rect x="200.45" y="269.50" width="1.0" height="21.50" fill="#ef5350"/><rect x="199.85" y="272.70" width="2.2" height="18.00" fill="#ef5350"/><rect x="204.03" y="269.50" width="1.0" height="23.30" fill="#26a69a"/><rect x="203.43" y="274.90" width="2.2" height="17.60" fill="#26a69a"/><rect x="207.60" y="274.50" width="1.0" height="8.80" fill="#ef5350"/><rect x="207.00" y="274.90" width="2.2" height="7.60" fill="#ef5350"/><rect x="211.18" y="280.80" width="1.0" height="18.20" fill="#ef5350"/><rect x="210.58" y="281.20" width="2.2" height="17.60" fill="#ef5350"/><rect x="214.75" y="292.50" width="1.0" height="12.30" fill="#ef5350"/><rect x="214.15" y="299.40" width="2.2" height="5.10" fill="#ef5350"/><rect x="218.33" y="295.50" width="1.0" height="12.10" fill="#26a69a"/><rect x="217.73" y="296.00" width="2.2" height="6.60" fill="#26a69a"/><rect x="221.90" y="290.00" width="1.0" height="7.60" fill="#ef5350"/><rect x="221.30" y="294.40" width="2.2" height="1.30" fill="#ef5350"/><rect x="225.48" y="290.90" width="1.0" height="4.10" fill="#ef5350"/><rect x="224.88" y="291.30" width="2.2" height="1.90" fill="#ef5350"/><rect x="229.05" y="289.60" width="1.0" height="11.90" fill="#ef5350"/><rect x="228.45" y="290.00" width="2.2" height="11.30" fill="#ef5350"/><rect x="232.63" y="301.00" width="1.0" height="15.40" fill="#ef5350"/><rect x="232.03" y="301.30" width="2.2" height="12.60" fill="#ef5350"/><rect x="236.20" y="314.80" width="1.0" height="17.20" fill="#ef5350"/><rect x="235.60" y="315.10" width="2.2" height="13.20" fill="#ef5350"/><rect x="239.78" y="298.20" width="1.0" height="42.00" fill="#26a69a"/><rect x="239.18" y="318.90" width="2.2" height="13.10" fill="#26a69a"/><rect x="243.35" y="316.30" width="1.0" height="19.50" fill="#ef5350"/><rect x="242.75" y="317.60" width="2.2" height="16.90" fill="#ef5350"/><rect x="246.93" y="330.00" width="1.0" height="18.70" fill="#26a69a"/><rect x="246.33" y="331.40" width="2.2" height="4.40" fill="#26a69a"/><rect x="250.50" y="320.70" width="1.0" height="17.60" fill="#26a69a"/><rect x="249.90" y="323.90" width="2.2" height="8.10" fill="#26a69a"/><rect x="254.08" y="305.70" width="1.0" height="21.90" fill="#26a69a"/><rect x="253.48" y="309.40" width="2.2" height="14.50" fill="#26a69a"/><rect x="257.65" y="303.30" width="1.0" height="11.80" fill="#26a69a"/><rect x="257.05" y="303.60" width="2.2" height="5.20" fill="#26a69a"/><rect x="261.23" y="296.90" width="1.0" height="12.90" fill="#ef5350"/><rect x="260.62" y="304.40" width="2.2" height="1.70" fill="#ef5350"/><rect x="264.80" y="306.60" width="1.0" height="13.50" fill="#ef5350"/><rect x="264.20" y="306.90" width="2.2" height="9.20" fill="#ef5350"/><rect x="268.38" y="306.30" width="1.0" height="11.90" fill="#26a69a"/><rect x="267.77" y="308.20" width="2.2" height="9.70" fill="#26a69a"/><rect x="271.95" y="300.00" width="1.0" height="7.90" fill="#26a69a"/><rect x="271.35" y="301.30" width="2.2" height="6.30" fill="#26a69a"/><rect x="275.52" y="295.00" width="1.0" height="13.00" fill="#ef5350"/><rect x="274.92" y="301.90" width="2.2" height="5.90" fill="#ef5350"/><rect x="279.10" y="308.00" width="1.0" height="12.60" fill="#ef5350"/><rect x="278.50" y="308.20" width="2.2" height="12.20" fill="#ef5350"/><rect x="282.68" y="314.50" width="1.0" height="10.00" fill="#26a69a"/><rect x="282.07" y="316.30" width="2.2" height="3.80" fill="#26a69a"/><rect x="286.25" y="278.20" width="1.0" height="41.00" fill="#26a69a"/><rect x="285.65" y="287.00" width="2.2" height="31.90" fill="#26a69a"/><rect x="289.82" y="250.30" width="1.0" height="32.00" fill="#26a69a"/><rect x="289.22" y="250.60" width="2.2" height="31.40" fill="#26a69a"/><rect x="293.40" y="247.40" width="1.0" height="28.60" fill="#ef5350"/><rect x="292.80" y="250.60" width="2.2" height="25.10" fill="#ef5350"/><rect x="296.97" y="256.60" width="1.0" height="26.00" fill="#26a69a"/><rect x="296.37" y="266.30" width="2.2" height="12.50" fill="#26a69a"/><rect x="300.55" y="250.30" width="1.0" height="21.30" fill="#26a69a"/><rect x="299.95" y="250.60" width="2.2" height="20.70" fill="#26a69a"/><rect x="304.12" y="250.00" width="1.0" height="14.40" fill="#ef5350"/><rect x="303.52" y="250.30" width="2.2" height="6.30" fill="#ef5350"/><rect x="307.70" y="246.20" width="1.0" height="13.20" fill="#26a69a"/><rect x="307.10" y="251.00" width="2.2" height="1.50" fill="#26a69a"/><rect x="311.27" y="251.50" width="1.0" height="14.10" fill="#ef5350"/><rect x="310.67" y="251.80" width="2.2" height="5.70" fill="#ef5350"/><rect x="314.85" y="253.10" width="1.0" height="10.70" fill="#ef5350"/><rect x="314.25" y="256.20" width="2.2" height="5.70" fill="#ef5350"/><rect x="318.43" y="259.10" width="1.0" height="10.00" fill="#26a69a"/><rect x="317.82" y="261.60" width="2.2" height="7.20" fill="#26a69a"/><rect x="322.00" y="259.10" width="1.0" height="12.50" fill="#ef5350"/><rect x="321.40" y="261.20" width="2.2" height="10.10" fill="#ef5350"/><rect x="325.57" y="261.80" width="1.0" height="8.50" fill="#26a69a"/><rect x="324.97" y="265.60" width="2.2" height="4.40" fill="#26a69a"/><rect x="329.15" y="260.00" width="1.0" height="10.70" fill="#26a69a"/><rect x="328.55" y="264.10" width="2.2" height="1.50" fill="#26a69a"/><rect x="332.72" y="239.90" width="1.0" height="67.70" fill="#ef5350"/><rect x="332.12" y="246.20" width="2.2" height="55.70" fill="#ef5350"/><rect x="336.30" y="264.40" width="1.0" height="46.90" fill="#26a69a"/><rect x="335.70" y="274.20" width="2.2" height="24.60" fill="#26a69a"/><rect x="339.88" y="259.10" width="1.0" height="16.30" fill="#ef5350"/><rect x="339.27" y="264.40" width="2.2" height="4.40" fill="#ef5350"/><rect x="343.45" y="261.30" width="1.0" height="20.70" fill="#26a69a"/><rect x="342.85" y="266.30" width="2.2" height="10.90" fill="#26a69a"/><rect x="347.02" y="259.10" width="1.0" height="13.40" fill="#26a69a"/><rect x="346.42" y="259.40" width="2.2" height="8.50" fill="#26a69a"/><rect x="350.60" y="252.50" width="1.0" height="6.00" fill="#26a69a"/><rect x="350.00" y="252.80" width="2.2" height="5.40" fill="#26a69a"/><rect x="354.18" y="249.80" width="1.0" height="6.30" fill="#26a69a"/><rect x="353.57" y="250.30" width="2.2" height="1.40" fill="#26a69a"/><rect x="357.75" y="248.60" width="1.0" height="20.40" fill="#ef5350"/><rect x="357.15" y="253.00" width="2.2" height="15.80" fill="#ef5350"/><rect x="361.32" y="258.50" width="1.0" height="11.20" fill="#26a69a"/><rect x="360.72" y="259.60" width="2.2" height="9.80" fill="#26a69a"/><rect x="364.90" y="257.00" width="1.0" height="3.00" fill="#ef5350"/><rect x="364.30" y="257.40" width="2.2" height="2.20" fill="#ef5350"/><rect x="368.48" y="252.80" width="1.0" height="4.50" fill="#ef5350"/><rect x="367.88" y="253.20" width="2.2" height="3.80" fill="#ef5350"/><rect x="372.05" y="252.10" width="1.0" height="8.00" fill="#ef5350"/><rect x="371.45" y="254.80" width="2.2" height="1.30" fill="#ef5350"/><rect x="375.62" y="241.90" width="1.0" height="15.10" fill="#26a69a"/><rect x="375.02" y="245.90" width="2.2" height="10.80" fill="#26a69a"/><rect x="379.20" y="220.30" width="1.0" height="40.20" fill="#26a69a"/><rect x="378.60" y="246.10" width="2.2" height="9.70" fill="#26a69a"/><rect x="382.77" y="189.80" width="1.0" height="60.80" fill="#26a69a"/><rect x="382.17" y="191.00" width="2.2" height="59.30" fill="#26a69a"/><rect x="386.35" y="188.50" width="1.0" height="19.20" fill="#ef5350"/><rect x="385.75" y="189.00" width="2.2" height="18.40" fill="#ef5350"/><rect x="389.93" y="206.70" width="1.0" height="17.50" fill="#ef5350"/><rect x="389.32" y="207.00" width="2.2" height="16.90" fill="#ef5350"/><rect x="393.50" y="224.20" width="1.0" height="17.60" fill="#ef5350"/><rect x="392.90" y="224.50" width="2.2" height="17.00" fill="#ef5350"/><rect x="397.07" y="228.30" width="1.0" height="15.40" fill="#26a69a"/><rect x="396.47" y="231.60" width="2.2" height="10.40" fill="#26a69a"/><rect x="400.65" y="232.00" width="1.0" height="11.40" fill="#ef5350"/><rect x="400.05" y="232.30" width="2.2" height="10.80" fill="#ef5350"/><rect x="404.23" y="233.30" width="1.0" height="10.10" fill="#26a69a"/><rect x="403.62" y="237.10" width="2.2" height="6.00" fill="#26a69a"/><rect x="407.80" y="232.40" width="1.0" height="8.10" fill="#26a69a"/><rect x="407.20" y="234.20" width="2.2" height="2.30" fill="#26a69a"/><rect x="411.38" y="229.10" width="1.0" height="7.70" fill="#ef5350"/><rect x="410.77" y="233.20" width="2.2" height="3.30" fill="#ef5350"/><rect x="414.95" y="233.30" width="1.0" height="6.30" fill="#26a69a"/><rect x="414.35" y="235.10" width="2.2" height="1.00" fill="#26a69a"/><rect x="418.52" y="226.40" width="1.0" height="9.40" fill="#26a69a"/><rect x="417.92" y="226.80" width="2.2" height="8.70" fill="#26a69a"/><rect x="422.10" y="219.50" width="1.0" height="9.70" fill="#26a69a"/><rect x="421.50" y="222.70" width="2.2" height="5.00" fill="#26a69a"/><rect x="425.68" y="167.70" width="1.0" height="56.20" fill="#26a69a"/><rect x="425.07" y="173.30" width="2.2" height="26.10" fill="#26a69a"/><rect x="429.25" y="135.30" width="1.0" height="34.20" fill="#26a69a"/><rect x="428.65" y="143.20" width="2.2" height="26.00" fill="#26a69a"/><rect x="432.82" y="132.30" width="1.0" height="15.00" fill="#26a69a"/><rect x="432.22" y="143.20" width="2.2" height="3.80" fill="#26a69a"/><rect x="436.40" y="147.60" width="1.0" height="16.90" fill="#ef5350"/><rect x="435.80" y="147.90" width="2.2" height="11.00" fill="#ef5350"/><rect x="439.98" y="149.90" width="1.0" height="10.80" fill="#26a69a"/><rect x="439.38" y="152.40" width="2.2" height="8.00" fill="#26a69a"/><rect x="443.55" y="144.50" width="1.0" height="14.40" fill="#ef5350"/><rect x="442.95" y="151.10" width="2.2" height="7.50" fill="#ef5350"/><rect x="447.12" y="159.10" width="1.0" height="7.00" fill="#ef5350"/><rect x="446.52" y="160.80" width="2.2" height="5.00" fill="#ef5350"/><rect x="450.70" y="162.40" width="1.0" height="12.50" fill="#ef5350"/><rect x="450.10" y="163.30" width="2.2" height="11.30" fill="#ef5350"/><rect x="454.27" y="172.70" width="1.0" height="11.00" fill="#ef5350"/><rect x="453.67" y="173.00" width="2.2" height="10.40" fill="#ef5350"/><rect x="457.85" y="180.90" width="1.0" height="3.60" fill="#ef5350"/><rect x="457.25" y="181.20" width="2.2" height="3.00" fill="#ef5350"/><rect x="461.43" y="173.00" width="1.0" height="12.50" fill="#26a69a"/><rect x="460.82" y="180.00" width="2.2" height="2.70" fill="#26a69a"/><rect x="465.00" y="176.70" width="1.0" height="11.40" fill="#ef5350"/><rect x="464.40" y="180.90" width="2.2" height="6.90" fill="#ef5350"/><rect x="468.57" y="185.40" width="1.0" height="12.20" fill="#ef5350"/><rect x="467.97" y="188.30" width="2.2" height="2.50" fill="#ef5350"/><rect x="472.15" y="144.50" width="1.0" height="22.50" fill="#26a69a"/><rect x="471.55" y="156.10" width="2.2" height="10.60" fill="#26a69a"/><rect x="475.73" y="138.20" width="1.0" height="40.50" fill="#ef5350"/><rect x="475.12" y="154.10" width="2.2" height="18.60" fill="#ef5350"/><rect x="479.30" y="174.90" width="1.0" height="27.10" fill="#ef5350"/><rect x="478.70" y="175.20" width="2.2" height="16.70" fill="#ef5350"/><rect x="482.88" y="185.30" width="1.0" height="31.10" fill="#ef5350"/><rect x="482.27" y="188.50" width="2.2" height="19.40" fill="#ef5350"/><rect x="486.45" y="213.00" width="1.0" height="9.70" fill="#26a69a"/><rect x="485.85" y="213.30" width="2.2" height="8.10" fill="#26a69a"/><rect x="490.02" y="207.90" width="1.0" height="11.90" fill="#ef5350"/><rect x="489.42" y="208.20" width="2.2" height="11.30" fill="#ef5350"/><rect x="493.60" y="213.90" width="1.0" height="5.30" fill="#26a69a"/><rect x="493.00" y="217.00" width="2.2" height="1.90" fill="#26a69a"/><rect x="497.18" y="210.10" width="1.0" height="10.70" fill="#26a69a"/><rect x="496.57" y="211.10" width="2.2" height="5.30" fill="#26a69a"/><rect x="500.75" y="201.70" width="1.0" height="9.70" fill="#26a69a"/><rect x="500.15" y="202.00" width="2.2" height="9.10" fill="#26a69a"/><rect x="504.32" y="199.80" width="1.0" height="6.60" fill="#ef5350"/><rect x="503.72" y="200.10" width="2.2" height="1.50" fill="#ef5350"/><rect x="507.90" y="195.40" width="1.0" height="3.70" fill="#26a69a"/><rect x="507.30" y="195.70" width="2.2" height="3.10" fill="#26a69a"/><rect x="511.48" y="194.10" width="1.0" height="7.50" fill="#26a69a"/><rect x="510.88" y="194.40" width="2.2" height="6.90" fill="#26a69a"/><rect x="515.05" y="189.10" width="1.0" height="12.50" fill="#26a69a"/><rect x="514.45" y="195.70" width="2.2" height="5.60" fill="#26a69a"/><rect x="518.62" y="202.00" width="1.0" height="43.70" fill="#ef5350"/><rect x="518.02" y="221.20" width="2.2" height="11.40" fill="#ef5350"/><rect x="522.20" y="233.10" width="1.0" height="38.90" fill="#ef5350"/><rect x="521.60" y="236.90" width="2.2" height="32.00" fill="#ef5350"/><rect x="525.77" y="262.00" width="1.0" height="24.50" fill="#ef5350"/><rect x="525.17" y="268.30" width="2.2" height="10.60" fill="#ef5350"/><rect x="529.35" y="279.70" width="1.0" height="34.20" fill="#ef5350"/><rect x="528.75" y="280.00" width="2.2" height="33.60" fill="#ef5350"/><rect x="532.92" y="314.60" width="1.0" height="14.90" fill="#ef5350"/><rect x="532.32" y="314.90" width="2.2" height="2.10" fill="#ef5350"/><rect x="536.50" y="301.30" width="1.0" height="22.60" fill="#26a69a"/><rect x="535.90" y="304.80" width="2.2" height="10.90" fill="#26a69a"/><rect x="540.08" y="302.30" width="1.0" height="16.60" fill="#ef5350"/><rect x="539.48" y="306.10" width="2.2" height="9.00" fill="#ef5350"/><rect x="543.65" y="307.60" width="1.0" height="14.30" fill="#ef5350"/><rect x="543.05" y="308.60" width="2.2" height="13.00" fill="#ef5350"/><rect x="547.23" y="309.50" width="1.0" height="11.60" fill="#ef5350"/><rect x="546.62" y="312.00" width="2.2" height="8.80" fill="#ef5350"/><rect x="550.80" y="312.60" width="1.0" height="6.90" fill="#ef5350"/><rect x="550.20" y="312.90" width="2.2" height="2.80" fill="#ef5350"/><rect x="554.38" y="318.30" width="1.0" height="23.00" fill="#ef5350"/><rect x="553.77" y="318.60" width="2.2" height="17.00" fill="#ef5350"/><rect x="557.95" y="337.20" width="1.0" height="9.40" fill="#ef5350"/><rect x="557.35" y="337.50" width="2.2" height="8.80" fill="#ef5350"/><rect x="561.52" y="344.80" width="1.0" height="14.10" fill="#ef5350"/><rect x="560.92" y="345.10" width="2.2" height="13.50" fill="#ef5350"/><rect x="565.10" y="328.30" width="1.0" height="39.30" fill="#26a69a"/><rect x="564.50" y="336.90" width="2.2" height="8.80" fill="#26a69a"/><rect x="568.67" y="333.80" width="1.0" height="29.80" fill="#ef5350"/><rect x="568.07" y="345.70" width="2.2" height="10.00" fill="#ef5350"/><rect x="572.25" y="337.80" width="1.0" height="17.00" fill="#ef5350"/><rect x="571.65" y="351.60" width="2.2" height="2.90" fill="#ef5350"/><rect x="575.83" y="339.30" width="1.0" height="21.40" fill="#26a69a"/><rect x="575.23" y="339.80" width="2.2" height="17.20" fill="#26a69a"/><rect x="579.40" y="331.90" width="1.0" height="12.00" fill="#ef5350"/><rect x="578.80" y="339.80" width="2.2" height="3.80" fill="#ef5350"/><rect x="582.98" y="338.20" width="1.0" height="12.40" fill="#ef5350"/><rect x="582.38" y="343.80" width="2.2" height="6.50" fill="#ef5350"/><rect x="586.55" y="351.30" width="1.0" height="6.00" fill="#ef5350"/><rect x="585.95" y="351.60" width="2.2" height="5.40" fill="#ef5350"/><rect x="590.12" y="353.20" width="1.0" height="7.80" fill="#ef5350"/><rect x="589.52" y="354.80" width="2.2" height="5.90" fill="#ef5350"/><rect x="593.70" y="354.80" width="1.0" height="6.90" fill="#26a69a"/><rect x="593.10" y="359.50" width="2.2" height="1.90" fill="#26a69a"/><rect x="597.27" y="360.40" width="1.0" height="11.30" fill="#ef5350"/><rect x="596.67" y="360.70" width="2.2" height="10.70" fill="#ef5350"/><rect x="600.85" y="368.90" width="1.0" height="6.50" fill="#ef5350"/><rect x="600.25" y="370.20" width="2.2" height="3.10" fill="#ef5350"/><rect x="604.42" y="359.10" width="1.0" height="13.90" fill="#26a69a"/><rect x="603.82" y="363.20" width="2.2" height="9.50" fill="#26a69a"/><rect x="608.00" y="357.00" width="1.0" height="15.90" fill="#26a69a"/><rect x="607.40" y="359.50" width="2.2" height="4.40" fill="#26a69a"/><rect x="611.58" y="337.80" width="1.0" height="49.90" fill="#26a69a"/><rect x="610.98" y="351.10" width="2.2" height="3.40" fill="#26a69a"/><rect x="615.15" y="322.60" width="1.0" height="27.60" fill="#26a69a"/><rect x="614.55" y="328.90" width="2.2" height="18.80" fill="#26a69a"/><rect x="618.73" y="326.70" width="1.0" height="19.70" fill="#ef5350"/><rect x="618.12" y="327.00" width="2.2" height="13.50" fill="#ef5350"/><rect x="622.30" y="327.00" width="1.0" height="13.30" fill="#ef5350"/><rect x="621.70" y="338.30" width="2.2" height="1.70" fill="#ef5350"/><rect x="625.88" y="323.80" width="1.0" height="16.50" fill="#26a69a"/><rect x="625.27" y="324.10" width="2.2" height="15.90" fill="#26a69a"/><rect x="629.45" y="306.70" width="1.0" height="22.20" fill="#26a69a"/><rect x="628.85" y="307.00" width="2.2" height="17.50" fill="#26a69a"/><rect x="633.02" y="301.30" width="1.0" height="7.80" fill="#26a69a"/><rect x="632.42" y="308.20" width="2.2" height="1.00" fill="#26a69a"/><rect x="636.60" y="304.40" width="1.0" height="9.20" fill="#26a69a"/><rect x="636.00" y="310.00" width="2.2" height="1.10" fill="#26a69a"/><rect x="640.17" y="298.20" width="1.0" height="14.70" fill="#26a69a"/><rect x="639.57" y="299.80" width="2.2" height="12.80" fill="#26a69a"/><rect x="643.75" y="291.00" width="1.0" height="10.00" fill="#26a69a"/><rect x="643.15" y="300.00" width="2.2" height="1.00" fill="#26a69a"/><rect x="647.33" y="302.00" width="1.0" height="18.80" fill="#ef5350"/><rect x="646.73" y="302.30" width="2.2" height="15.60" fill="#ef5350"/><rect x="650.90" y="308.20" width="1.0" height="13.40" fill="#26a69a"/><rect x="650.30" y="312.90" width="2.2" height="5.00" fill="#26a69a"/><rect x="654.48" y="314.60" width="1.0" height="11.50" fill="#ef5350"/><rect x="653.88" y="314.90" width="2.2" height="10.90" fill="#ef5350"/><rect x="658.05" y="356.00" width="1.0" height="33.50" fill="#ef5350"/><rect x="657.45" y="360.70" width="2.2" height="14.70" fill="#ef5350"/><rect x="661.62" y="365.10" width="1.0" height="22.60" fill="#ef5350"/><rect x="661.02" y="375.10" width="2.2" height="4.00" fill="#ef5350"/><rect x="665.20" y="352.80" width="1.0" height="27.00" fill="#26a69a"/><rect x="664.60" y="360.10" width="2.2" height="19.40" fill="#26a69a"/><rect x="668.77" y="361.60" width="1.0" height="15.80" fill="#ef5350"/><rect x="668.17" y="361.90" width="2.2" height="8.80" fill="#ef5350"/><rect x="672.35" y="370.00" width="1.0" height="10.40" fill="#ef5350"/><rect x="671.75" y="370.30" width="2.2" height="9.80" fill="#ef5350"/><rect x="675.92" y="376.10" width="1.0" height="6.80" fill="#ef5350"/><rect x="675.32" y="381.10" width="2.2" height="1.50" fill="#ef5350"/><rect x="679.50" y="382.60" width="1.0" height="20.70" fill="#ef5350"/><rect x="678.90" y="382.90" width="2.2" height="20.10" fill="#ef5350"/><rect x="683.08" y="393.90" width="1.0" height="9.10" fill="#26a69a"/><rect x="682.48" y="398.00" width="2.2" height="4.70" fill="#26a69a"/><rect x="686.65" y="387.10" width="1.0" height="10.60" fill="#26a69a"/><rect x="686.05" y="387.40" width="2.2" height="10.00" fill="#26a69a"/><rect x="690.23" y="377.00" width="1.0" height="10.30" fill="#26a69a"/><rect x="689.62" y="381.40" width="2.2" height="5.60" fill="#26a69a"/><rect x="693.80" y="381.40" width="1.0" height="10.30" fill="#ef5350"/><rect x="693.20" y="383.30" width="2.2" height="5.90" fill="#ef5350"/><rect x="697.38" y="383.30" width="1.0" height="7.50" fill="#26a69a"/><rect x="696.77" y="383.60" width="2.2" height="5.90" fill="#26a69a"/><rect x="700.95" y="375.70" width="1.0" height="9.10" fill="#26a69a"/><rect x="700.35" y="377.40" width="2.2" height="7.10" fill="#26a69a"/><rect x="704.52" y="440.20" width="1.0" height="25.20" fill="#ef5350"/><rect x="703.92" y="451.30" width="2.2" height="13.80" fill="#ef5350"/><rect x="708.10" y="460.90" width="1.0" height="15.20" fill="#ef5350"/><rect x="707.50" y="465.10" width="2.2" height="10.70" fill="#ef5350"/><rect x="711.68" y="465.80" width="1.0" height="13.90" fill="#ef5350"/><rect x="711.08" y="469.90" width="2.2" height="9.50" fill="#ef5350"/><rect x="715.25" y="455.90" width="1.0" height="24.30" fill="#26a69a"/><rect x="714.65" y="456.20" width="2.2" height="23.70" fill="#26a69a"/><rect x="718.83" y="433.90" width="1.0" height="23.00" fill="#26a69a"/><rect x="718.23" y="445.80" width="2.2" height="10.80" fill="#26a69a"/><rect x="722.40" y="438.30" width="1.0" height="12.50" fill="#26a69a"/><rect x="721.80" y="440.80" width="2.2" height="3.10" fill="#26a69a"/><rect x="725.98" y="439.60" width="1.0" height="6.20" fill="#26a69a"/><rect x="725.38" y="439.90" width="2.2" height="2.50" fill="#26a69a"/><rect x="729.55" y="427.60" width="1.0" height="10.30" fill="#26a69a"/><rect x="728.95" y="427.90" width="2.2" height="9.70" fill="#26a69a"/><rect x="733.12" y="427.60" width="1.0" height="12.90" fill="#ef5350"/><rect x="732.52" y="427.90" width="2.2" height="12.30" fill="#ef5350"/><rect x="736.70" y="433.20" width="1.0" height="7.90" fill="#26a69a"/><rect x="736.10" y="437.00" width="2.2" height="3.80" fill="#26a69a"/><rect x="740.27" y="433.90" width="1.0" height="10.00" fill="#ef5350"/><rect x="739.67" y="435.80" width="2.2" height="5.00" fill="#ef5350"/><rect x="743.85" y="424.50" width="1.0" height="17.20" fill="#26a69a"/><rect x="743.25" y="433.90" width="2.2" height="7.50" fill="#26a69a"/><rect x="747.43" y="431.10" width="1.0" height="9.70" fill="#ef5350"/><rect x="746.83" y="431.40" width="2.2" height="1.00" fill="#ef5350"/><rect x="751.00" y="408.50" width="1.0" height="51.30" fill="#ef5350"/><rect x="750.40" y="408.80" width="2.2" height="50.70" fill="#ef5350"/><rect x="754.58" y="441.40" width="1.0" height="30.00" fill="#26a69a"/><rect x="753.98" y="443.30" width="2.2" height="17.40" fill="#26a69a"/><rect x="758.15" y="437.60" width="1.0" height="20.20" fill="#ef5350"/><rect x="757.55" y="445.20" width="2.2" height="12.30" fill="#ef5350"/><rect x="761.73" y="442.70" width="1.0" height="13.40" fill="#ef5350"/><rect x="761.12" y="453.30" width="2.2" height="2.50" fill="#ef5350"/><rect x="765.30" y="448.00" width="1.0" height="8.80" fill="#26a69a"/><rect x="764.70" y="448.30" width="2.2" height="8.20" fill="#26a69a"/><rect x="768.88" y="439.90" width="1.0" height="9.10" fill="#26a69a"/><rect x="768.27" y="442.70" width="2.2" height="6.00" fill="#26a69a"/><rect x="772.45" y="426.70" width="1.0" height="16.30" fill="#26a69a"/><rect x="771.85" y="427.00" width="2.2" height="15.70" fill="#26a69a"/><rect x="776.02" y="424.50" width="1.0" height="17.20" fill="#ef5350"/><rect x="775.42" y="424.80" width="2.2" height="16.60" fill="#ef5350"/><rect x="779.60" y="433.80" width="1.0" height="4.80" fill="#26a69a"/><rect x="779.00" y="434.10" width="2.2" height="4.20" fill="#26a69a"/><rect x="783.18" y="436.30" width="1.0" height="5.10" fill="#ef5350"/><rect x="782.58" y="436.60" width="2.2" height="1.70" fill="#ef5350"/><rect x="786.75" y="440.10" width="1.0" height="9.40" fill="#ef5350"/><rect x="786.15" y="440.40" width="2.2" height="8.80" fill="#ef5350"/><rect x="790.33" y="444.90" width="1.0" height="6.50" fill="#26a69a"/><rect x="789.73" y="445.20" width="2.2" height="2.50" fill="#26a69a"/><rect x="793.90" y="445.90" width="1.0" height="9.30" fill="#26a69a"/><rect x="793.30" y="446.20" width="2.2" height="3.00" fill="#26a69a"/><rect x="797.48" y="436.40" width="1.0" height="25.10" fill="#26a69a"/><rect x="796.88" y="438.30" width="2.2" height="17.50" fill="#26a69a"/><rect x="801.05" y="428.90" width="1.0" height="22.50" fill="#ef5350"/><rect x="800.45" y="437.00" width="2.2" height="12.60" fill="#ef5350"/><rect x="804.62" y="439.10" width="1.0" height="11.60" fill="#26a69a"/><rect x="804.02" y="443.90" width="2.2" height="6.50" fill="#26a69a"/><rect x="808.20" y="441.70" width="1.0" height="16.00" fill="#26a69a"/><rect x="807.60" y="442.00" width="2.2" height="2.50" fill="#26a69a"/><rect x="811.77" y="432.70" width="1.0" height="9.00" fill="#26a69a"/><rect x="811.17" y="436.40" width="2.2" height="5.00" fill="#26a69a"/><rect x="815.35" y="423.20" width="1.0" height="14.50" fill="#26a69a"/><rect x="814.75" y="430.10" width="2.2" height="7.30" fill="#26a69a"/><rect x="818.93" y="427.70" width="1.0" height="6.30" fill="#26a69a"/><rect x="818.33" y="429.60" width="2.2" height="1.90" fill="#26a69a"/><rect x="822.50" y="418.40" width="1.0" height="13.60" fill="#26a69a"/><rect x="821.90" y="418.70" width="2.2" height="13.00" fill="#26a69a"/><rect x="826.08" y="413.60" width="1.0" height="13.10" fill="#ef5350"/><rect x="825.48" y="418.90" width="2.2" height="1.90" fill="#ef5350"/><rect x="829.65" y="424.30" width="1.0" height="5.90" fill="#26a69a"/><rect x="829.05" y="424.60" width="2.2" height="3.10" fill="#26a69a"/><rect x="833.23" y="421.70" width="1.0" height="8.20" fill="#ef5350"/><rect x="832.62" y="427.70" width="2.2" height="1.90" fill="#ef5350"/><rect x="836.80" y="423.30" width="1.0" height="6.20" fill="#26a69a"/><rect x="836.20" y="424.60" width="2.2" height="4.60" fill="#26a69a"/><rect x="840.38" y="424.60" width="1.0" height="9.00" fill="#ef5350"/><rect x="839.77" y="424.90" width="2.2" height="8.40" fill="#ef5350"/><rect x="843.95" y="412.60" width="1.0" height="44.90" fill="#26a69a"/><rect x="843.35" y="423.30" width="2.2" height="15.40" fill="#26a69a"/><rect x="847.52" y="387.30" width="1.0" height="41.70" fill="#26a69a"/><rect x="846.92" y="412.90" width="2.2" height="11.70" fill="#26a69a"/><rect x="851.10" y="411.40" width="1.0" height="26.30" fill="#ef5350"/><rect x="850.50" y="414.10" width="2.2" height="14.60" fill="#ef5350"/><rect x="854.68" y="404.80" width="1.0" height="24.20" fill="#26a69a"/><rect x="854.08" y="405.10" width="2.2" height="23.60" fill="#26a69a"/><rect x="858.25" y="404.20" width="1.0" height="9.10" fill="#ef5350"/><rect x="857.65" y="404.50" width="2.2" height="2.90" fill="#ef5350"/><rect x="861.83" y="399.50" width="1.0" height="10.00" fill="#26a69a"/><rect x="861.23" y="403.60" width="2.2" height="1.30" fill="#26a69a"/><rect x="865.40" y="403.30" width="1.0" height="9.00" fill="#ef5350"/><rect x="864.80" y="403.60" width="2.2" height="8.40" fill="#ef5350"/><rect x="868.98" y="400.40" width="1.0" height="11.50" fill="#26a69a"/><rect x="868.38" y="400.70" width="2.2" height="10.90" fill="#26a69a"/><rect x="872.55" y="401.70" width="1.0" height="9.10" fill="#ef5350"/><rect x="871.95" y="402.00" width="2.2" height="1.20" fill="#ef5350"/><rect x="876.12" y="402.40" width="1.0" height="7.00" fill="#ef5350"/><rect x="875.52" y="405.70" width="2.2" height="3.40" fill="#ef5350"/><rect x="879.70" y="407.60" width="1.0" height="4.10" fill="#ef5350"/><rect x="879.10" y="407.90" width="2.2" height="3.50" fill="#ef5350"/><rect x="883.27" y="410.10" width="1.0" height="8.10" fill="#ef5350"/><rect x="882.67" y="410.40" width="2.2" height="7.50" fill="#ef5350"/><rect x="886.85" y="411.40" width="1.0" height="11.80" fill="#ef5350"/><rect x="886.25" y="417.70" width="2.2" height="5.20" fill="#ef5350"/><rect x="890.43" y="397.60" width="1.0" height="18.20" fill="#ef5350"/><rect x="889.83" y="402.00" width="2.2" height="5.00" fill="#ef5350"/><rect x="894.00" y="398.30" width="1.0" height="12.40" fill="#26a69a"/><rect x="893.40" y="398.60" width="2.2" height="11.80" fill="#26a69a"/><rect x="897.58" y="391.10" width="1.0" height="9.60" fill="#26a69a"/><rect x="896.98" y="397.00" width="2.2" height="1.00" fill="#26a69a"/><rect x="901.15" y="389.40" width="1.0" height="13.80" fill="#ef5350"/><rect x="900.55" y="394.40" width="2.2" height="8.50" fill="#ef5350"/><rect x="904.73" y="381.00" width="1.0" height="17.50" fill="#26a69a"/><rect x="904.12" y="381.30" width="2.2" height="16.90" fill="#26a69a"/><rect x="908.30" y="370.90" width="1.0" height="17.70" fill="#26a69a"/><rect x="907.70" y="381.30" width="2.2" height="4.30" fill="#26a69a"/><rect x="911.88" y="381.00" width="1.0" height="7.20" fill="#ef5350"/><rect x="911.27" y="381.30" width="2.2" height="4.10" fill="#ef5350"/><rect x="915.45" y="371.90" width="1.0" height="15.10" fill="#26a69a"/><rect x="914.85" y="384.30" width="2.2" height="2.40" fill="#26a69a"/><rect x="919.02" y="381.20" width="1.0" height="5.60" fill="#ef5350"/><rect x="918.42" y="384.60" width="2.2" height="1.90" fill="#ef5350"/><rect x="922.60" y="379.50" width="1.0" height="5.10" fill="#26a69a"/><rect x="922.00" y="379.90" width="2.2" height="4.40" fill="#26a69a"/><rect x="926.18" y="372.20" width="1.0" height="6.80" fill="#26a69a"/><rect x="925.58" y="372.50" width="2.2" height="6.20" fill="#26a69a"/><rect x="929.75" y="370.40" width="1.0" height="8.90" fill="#ef5350"/><rect x="929.15" y="370.70" width="2.2" height="7.40" fill="#ef5350"/><rect x="933.33" y="365.70" width="1.0" height="11.70" fill="#26a69a"/><rect x="932.73" y="367.00" width="2.2" height="10.10" fill="#26a69a"/><rect x="936.90" y="339.50" width="1.0" height="28.40" fill="#26a69a"/><rect x="936.30" y="348.20" width="2.2" height="19.40" fill="#26a69a"/><rect x="940.48" y="346.30" width="1.0" height="20.10" fill="#ef5350"/><rect x="939.88" y="346.60" width="2.2" height="13.60" fill="#ef5350"/><rect x="944.05" y="354.00" width="1.0" height="33.70" fill="#ef5350"/><rect x="943.45" y="360.20" width="2.2" height="27.20" fill="#ef5350"/><rect x="947.62" y="374.40" width="1.0" height="15.10" fill="#26a69a"/><rect x="947.02" y="377.50" width="2.2" height="11.70" fill="#26a69a"/><rect x="951.20" y="371.90" width="1.0" height="9.00" fill="#ef5350"/><rect x="950.60" y="377.10" width="2.2" height="3.50" fill="#ef5350"/><rect x="954.77" y="378.80" width="1.0" height="5.50" fill="#26a69a"/><rect x="954.17" y="379.10" width="2.2" height="2.70" fill="#26a69a"/><rect x="958.35" y="363.90" width="1.0" height="14.50" fill="#26a69a"/><rect x="957.75" y="370.10" width="2.2" height="8.00" fill="#26a69a"/><rect x="961.93" y="368.80" width="1.0" height="6.50" fill="#ef5350"/><rect x="961.33" y="370.10" width="2.2" height="4.90" fill="#ef5350"/><rect x="965.50" y="368.80" width="1.0" height="5.90" fill="#ef5350"/><rect x="964.90" y="370.10" width="2.2" height="4.30" fill="#ef5350"/><rect x="969.08" y="362.60" width="1.0" height="20.40" fill="#26a69a"/><rect x="968.48" y="375.00" width="2.2" height="3.30" fill="#26a69a"/><rect x="972.65" y="341.00" width="1.0" height="42.00" fill="#26a69a"/><rect x="972.05" y="344.10" width="2.2" height="30.30" fill="#26a69a"/><rect x="976.23" y="320.60" width="1.0" height="24.70" fill="#26a69a"/><rect x="975.62" y="327.40" width="2.2" height="16.10" fill="#26a69a"/><rect x="979.80" y="319.00" width="1.0" height="18.40" fill="#ef5350"/><rect x="979.20" y="326.80" width="2.2" height="6.80" fill="#ef5350"/></g><rect x="6.5" y="17.5" width="1011" height="526" fill="none" stroke="#e4e6ec" stroke-width="1"/><line x1="982.5" y1="17.5" x2="982.5" y2="543.5" stroke="#e4e6ec" stroke-width="1"/><line x1="6.5" y1="525.5" x2="1017.5" y2="525.5" stroke="#e4e6ec" stroke-width="1"/><text x="6.3" y="12.85" font-size="9" fill="#4a4a4a" stroke="#4a4a4a" stroke-width="0.28" textLength="250.2" lengthAdjust="spacingAndGlyphs">daniellkong135 published on TradingView.com, Feb 07, 2023 03:05 UTC</text><text x="11.6" y="30.0" font-size="8.2" fill="#2c303a" stroke="#2c303a" stroke-width="0.28" textLength="121.5" lengthAdjust="spacingAndGlyphs">Enphase Energy, Inc., 30, NASDAQ</text><text x="138.6" y="30.0" font-size="8.2" fill="#2c303a" stroke="#2c303a" stroke-width="0.28">O</text><text x="144.2" y="30.0" font-size="8.2" fill="#26a69a" stroke="#26a69a" stroke-width="0.28" textLength="22.7" lengthAdjust="spacingAndGlyphs">221.75</text><text x="171.6" y="30.0" font-size="8.2" fill="#2c303a" stroke="#2c303a" stroke-width="0.28">H</text><text x="177.1" y="30.0" font-size="8.2" fill="#26a69a" stroke="#26a69a" stroke-width="0.28" textLength="22.0" lengthAdjust="spacingAndGlyphs">223.07</text><text x="204.5" y="30.0" font-size="8.2" fill="#2c303a" stroke="#2c303a" stroke-width="0.28">L</text><text x="208.9" y="30.0" font-size="8.2" fill="#26a69a" stroke="#26a69a" stroke-width="0.28" textLength="21.9" lengthAdjust="spacingAndGlyphs">221.54</text><text x="236.2" y="30.0" font-size="8.2" fill="#2c303a" stroke="#2c303a" stroke-width="0.28">C</text><text x="241.7" y="30.0" font-size="8.2" fill="#26a69a" stroke="#26a69a" stroke-width="0.28" textLength="20.9" lengthAdjust="spacingAndGlyphs">222.98</text><text x="267.8" y="30.0" font-size="8.2" fill="#26a69a" stroke="#26a69a" stroke-width="0.28" textLength="18.8" lengthAdjust="spacingAndGlyphs">+1.10</text><text x="289.0" y="30.0" font-size="8.2" fill="#26a69a" stroke="#26a69a" stroke-width="0.28" textLength="28.5" lengthAdjust="spacingAndGlyphs">(+0.50%)</text><text x="11.6" y="40.7" font-size="8.2" fill="#2c303a" stroke="#2c303a" stroke-width="0.28" textLength="25.9" lengthAdjust="spacingAndGlyphs">Vol (30)</text><text x="43.6" y="40.7" font-size="8.2" fill="#26a69a" stroke="#26a69a" stroke-width="0.28" textLength="26.5" lengthAdjust="spacingAndGlyphs">15.747K</text><text x="75.0" y="40.7" font-size="8.2" fill="#2962ff" stroke="#2962ff" stroke-width="0.28" textLength="23.1" lengthAdjust="spacingAndGlyphs">8.152K</text><text x="988.8" y="29.4" font-size="8.4" fill="#2c303a" stroke="#2c303a" stroke-width="0.28" textLength="13.8" lengthAdjust="spacingAndGlyphs">USD</text><text x="988.8" y="46.5" font-size="8.4" fill="#2c303a" stroke="#2c303a" stroke-width="0.28" textLength="22.0" lengthAdjust="spacingAndGlyphs">276.00</text><text x="988.8" y="70.2" font-size="8.4" fill="#2c303a" stroke="#2c303a" stroke-width="0.28" textLength="22.0" lengthAdjust="spacingAndGlyphs">272.00</text><text x="988.8" y="93.89" font-size="8.4" fill="#2c303a" stroke="#2c303a" stroke-width="0.28" textLength="22.0" lengthAdjust="spacingAndGlyphs">268.00</text><text x="988.8" y="117.59" font-size="8.4" fill="#2c303a" stroke="#2c303a" stroke-width="0.28" textLength="22.0" lengthAdjust="spacingAndGlyphs">264.00</text><text x="988.8" y="141.28" font-size="8.4" fill="#2c303a" stroke="#2c303a" stroke-width="0.28" textLength="22.0" lengthAdjust="spacingAndGlyphs">260.00</text><text x="988.8" y="164.98" font-size="8.4" fill="#2c303a" stroke="#2c303a" stroke-width="0.28" textLength="22.0" lengthAdjust="spacingAndGlyphs">256.00</text><text x="988.8" y="188.68" font-size="8.4" fill="#2c303a" stroke="#2c303a" stroke-width="0.28" textLength="22.0" lengthAdjust="spacingAndGlyphs">252.00</text><text x="988.8" y="212.37" font-size="8.4" fill="#2c303a" stroke="#2c303a" stroke-width="0.28" textLength="22.0" lengthAdjust="spacingAndGlyphs">248.00</text><text x="988.8" y="236.07" font-size="8.4" fill="#2c303a" stroke="#2c303a" stroke-width="0.28" textLength="22.0" lengthAdjust="spacingAndGlyphs">244.00</text><text x="988.8" y="259.76" font-size="8.4" fill="#2c303a" stroke="#2c303a" stroke-width="0.28" textLength="22.0" lengthAdjust="spacingAndGlyphs">240.00</text><text x="988.8" y="283.46" font-size="8.4" fill="#2c303a" stroke="#2c303a" stroke-width="0.28" textLength="22.0" lengthAdjust="spacingAndGlyphs">236.00</text><text x="988.8" y="307.16" font-size="8.4" fill="#2c303a" stroke="#2c303a" stroke-width="0.28" textLength="22.0" lengthAdjust="spacingAndGlyphs">232.00</text><text x="988.8" y="330.85" font-size="8.4" fill="#2c303a" stroke="#2c303a" stroke-width="0.28" textLength="22.0" lengthAdjust="spacingAndGlyphs">228.00</text><text x="988.8" y="354.55" font-size="8.4" fill="#2c303a" stroke="#2c303a" stroke-width="0.28" textLength="22.0" lengthAdjust="spacingAndGlyphs">224.00</text><text x="988.8" y="378.24" font-size="8.4" fill="#2c303a" stroke="#2c303a" stroke-width="0.28" textLength="22.0" lengthAdjust="spacingAndGlyphs">220.00</text><text x="988.8" y="401.94" font-size="8.4" fill="#2c303a" stroke="#2c303a" stroke-width="0.28" textLength="22.0" lengthAdjust="spacingAndGlyphs">216.00</text><text x="988.8" y="425.64" font-size="8.4" fill="#2c303a" stroke="#2c303a" stroke-width="0.28" textLength="22.0" lengthAdjust="spacingAndGlyphs">212.00</text><text x="988.8" y="449.33" font-size="8.4" fill="#2c303a" stroke="#2c303a" stroke-width="0.28" textLength="22.0" lengthAdjust="spacingAndGlyphs">208.00</text><text x="988.8" y="473.03" font-size="8.4" fill="#2c303a" stroke="#2c303a" stroke-width="0.28" textLength="22.0" lengthAdjust="spacingAndGlyphs">204.00</text><text x="988.8" y="496.72" font-size="8.4" fill="#2c303a" stroke="#2c303a" stroke-width="0.28" textLength="22.0" lengthAdjust="spacingAndGlyphs">200.00</text><text x="988.8" y="520.42" font-size="8.4" fill="#2c303a" stroke="#2c303a" stroke-width="0.28" textLength="22.0" lengthAdjust="spacingAndGlyphs">196.00</text><rect x="982.5" y="328.5" width="32" height="10" fill="#fff" stroke="#ef5350" stroke-width="1"/><text x="988.6" y="336.0" font-size="7.8" fill="#ef5350" stroke="#ef5350" stroke-width="0.28" textLength="22.4" lengthAdjust="spacingAndGlyphs">227.03</text><path d="M982,351.8 H1012.6 a2,2 0 0 1 2,2 V360.8 a2,2 0 0 1 -2,2 H982 Z" fill="#26a69a"/><text x="988.6" y="360.2" font-size="7.8" fill="#fff" stroke="#fff" stroke-width="0.28" textLength="22.4" lengthAdjust="spacingAndGlyphs">222.98</text><svg x="7" y="526" width="975" height="17" overflow="hidden"><g transform="translate(-7,-526)"><text x="-0.3" y="536.5" font-size="8.4" fill="#2c303a" stroke="#2c303a" stroke-width="0.28" textLength="16.8" lengthAdjust="spacingAndGlyphs">2023</text><text x="100.85" y="536.5" font-size="8.4" fill="#2c303a" stroke="#2c303a" stroke-width="0.28" textLength="4.0" lengthAdjust="spacingAndGlyphs" text-anchor="middle">5</text><text x="193.8" y="536.5" font-size="8.4" fill="#2c303a" stroke="#2c303a" stroke-width="0.28" textLength="4.0" lengthAdjust="spacingAndGlyphs" text-anchor="middle">9</text><text x="286.75" y="536.5" font-size="8.4" fill="#2c303a" stroke="#2c303a" stroke-width="0.28" textLength="8.0" lengthAdjust="spacingAndGlyphs" text-anchor="middle">11</text><text x="379.7" y="536.5" font-size="8.4" fill="#2c303a" stroke="#2c303a" stroke-width="0.28" textLength="8.0" lengthAdjust="spacingAndGlyphs" text-anchor="middle">13</text><text x="472.65" y="536.5" font-size="8.4" fill="#2c303a" stroke="#2c303a" stroke-width="0.28" textLength="8.0" lengthAdjust="spacingAndGlyphs" text-anchor="middle">18</text><text x="544.15" y="536.5" font-size="8.4" fill="#2c303a" stroke="#2c303a" stroke-width="0.28" textLength="18.6" lengthAdjust="spacingAndGlyphs" text-anchor="middle">18:00</text><text x="612.08" y="536.5" font-size="8.4" fill="#2c303a" stroke="#2c303a" stroke-width="0.28" textLength="8.0" lengthAdjust="spacingAndGlyphs" text-anchor="middle">23</text><text x="705.02" y="536.5" font-size="8.4" fill="#2c303a" stroke="#2c303a" stroke-width="0.28" textLength="8.0" lengthAdjust="spacingAndGlyphs" text-anchor="middle">25</text><text x="776.52" y="536.5" font-size="8.4" fill="#2c303a" stroke="#2c303a" stroke-width="0.28" textLength="18.6" lengthAdjust="spacingAndGlyphs" text-anchor="middle">18:00</text><text x="844.45" y="536.5" font-size="8.4" fill="#2c303a" stroke="#2c303a" stroke-width="0.28" textLength="8.0" lengthAdjust="spacingAndGlyphs" text-anchor="middle">30</text><text x="936.8" y="536.5" font-size="8.4" fill="#2c303a" stroke="#2c303a" stroke-width="0.28" textLength="13.8" lengthAdjust="spacingAndGlyphs" text-anchor="middle">Feb</text></g></svg><g fill="#131722"><path d="M6.9,551.1 H11.5 V557.1 H9.2 V553.4 H6.9 Z"/><circle cx="13.8" cy="552.35" r="1.05"/><path d="M16.3,551.1 H19.0 L17.0,557.1 H14.4 Z"/></g><text x="21.6" y="557.3" font-size="8.6" fill="#4a4a4a" stroke="#4a4a4a" stroke-width="0.28" textLength="46.6" lengthAdjust="spacingAndGlyphs">TradingView</text></svg></div></body></html>
